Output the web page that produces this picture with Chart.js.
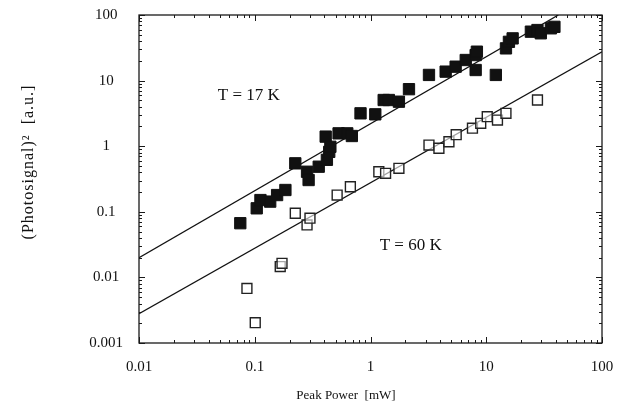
<!DOCTYPE html>
<html>
<head>
<meta charset="utf-8">
<script src="https://cdn.jsdelivr.net/npm/chart.js@4.4.1/dist/chart.umd.min.js"></script>
<style>
  html, body { margin: 0; padding: 0; background: #fff; }
</style>
</head>
<body>
<canvas id="photoChart" width="620" height="410"></canvas>
<script>
// values
const power17 = [0.075, 0.104, 0.112, 0.136, 0.156, 0.184, 0.224, 0.283, 0.292, 0.357, 0.42, 0.44, 0.41, 0.45, 0.53, 0.63, 0.69, 0.82, 1.10, 1.30, 1.44, 1.76, 2.15, 3.2, 4.46, 5.44, 6.65, 8.1, 8.1, 8.3, 12.1, 14.8, 15.7, 16.9, 24.3, 27.7, 29.6, 36.2, 38.8];
const signal17 = [0.067, 0.113, 0.151, 0.143, 0.180, 0.215, 0.548, 0.408, 0.305, 0.487, 0.62, 0.82, 1.40, 0.98, 1.57, 1.57, 1.43, 3.17, 3.06, 5.06, 5.06, 4.77, 7.4, 12.2, 13.7, 16.3, 20.6, 24.5, 14.5, 27.6, 12.2, 31, 39, 44, 55.7, 59, 52.6, 62.7, 66];

const power60 = [0.101, 0.0856, 0.166, 0.172, 0.283, 0.224, 0.30, 0.515, 0.67, 1.18, 1.35, 1.76, 3.2, 3.9, 4.76, 5.5, 7.6, 8.96, 10.2, 12.5, 14.8, 27.7];
const signal60 = [0.00204, 0.0068, 0.0146, 0.0164, 0.063, 0.095, 0.080, 0.18, 0.241, 0.408, 0.386, 0.46, 1.04, 0.93, 1.17, 1.5, 1.88, 2.23, 2.82, 2.5, 3.17, 5.06];

// fitted lines (slope ~1 on log-log)
const fit17X = [0.01, 42];
const fit17Y = [0.02, 100];
const fit60X = [0.01, 100];
const fit60Y = [0.0028, 27.5];

const xTicks = [0.01, 0.1, 1, 10, 100];
const xTickLabels = ["0.01", "0.1", "1", "10", "100"];
const yTicks = [0.001, 0.01, 0.1, 1, 10, 100];
const yTickLabels = ["0.001", "0.01", "0.1", "1", "10", "100"];

const xTitle = "Peak Power  [mW]";
const yTitle = "(Photosignal)\u00B2  [a.u.]";
const tempLabels = ["T = 17 K", "T = 60 K"];

function toPoints(xs, ys) {
  return xs.map((v, i) => ({ x: v, y: ys[i] }));
}

function labelFor(list, labels, v) {
  const i = list.findIndex(t => Math.abs(Math.log10(t) - Math.log10(v)) < 1e-6);
  return i < 0 ? "" : labels[i];
}

function logMarks(min, max) {
  const out = [];
  const lo = Math.round(Math.log10(min)), hi = Math.round(Math.log10(max));
  for (let e = lo; e < hi; e++) {
    for (let k = 1; k < 10; k++) out.push({ v: k * Math.pow(10, e), major: k === 1 });
  }
  out.push({ v: max, major: true });
  return out;
}

// scale overhang would push the plot area in; let layout.padding decide instead
function noOverhang(s) {
  s.paddingTop = 0; s.paddingBottom = 0; s.paddingLeft = 0; s.paddingRight = 0;
}

const serif = '"Liberation Serif", "DejaVu Serif", serif';

// box frame with inward ticks on all four sides, plus titles and annotations
const frameTicks = {
  id: "frameTicks",
  afterDraw(chart) {
    const { ctx, chartArea: a, scales: { x, y } } = chart;
    ctx.save();
    ctx.strokeStyle = "#1a1a1a";
    ctx.lineWidth = 1;
    logMarks(x.min, x.max).forEach(t => {
      const px = Math.round(x.getPixelForValue(t.v)) + 0.5;
      const len = t.major ? 6 : 3;
      ctx.beginPath();
      ctx.moveTo(px, a.bottom); ctx.lineTo(px, a.bottom - len);
      ctx.moveTo(px, a.top); ctx.lineTo(px, a.top + len);
      ctx.stroke();
    });
    logMarks(y.min, y.max).forEach(t => {
      const py = Math.round(y.getPixelForValue(t.v)) + 0.5;
      const len = t.major ? 6 : 3;
      ctx.beginPath();
      ctx.moveTo(a.left, py); ctx.lineTo(a.left + len, py);
      ctx.moveTo(a.right, py); ctx.lineTo(a.right - len, py);
      ctx.stroke();
    });
    ctx.lineWidth = 1.3;
    ctx.strokeRect(a.left, a.top, a.width, a.height);

    ctx.fillStyle = "#111";
    ctx.textBaseline = "middle";
    ctx.font = "17px " + serif;
    ctx.textAlign = "left";
    ctx.fillText(tempLabels[0], x.getPixelForValue(0.048), y.getPixelForValue(6.0));
    ctx.fillText(tempLabels[1], x.getPixelForValue(1.2), y.getPixelForValue(0.031));

    ctx.textAlign = "center";
    ctx.font = "13px " + serif;
    ctx.fillText(xTitle, 346, 396);

    ctx.translate(29, 162);
    ctx.rotate(-Math.PI / 2);
    ctx.font = "16px " + serif;
    ctx.letterSpacing = "1px";
    ctx.fillText(yTitle, 0, 0);
    ctx.restore();
  }
};

new Chart(document.getElementById("photoChart"), {
  type: "scatter",
  data: {
    datasets: [
      { label: tempLabels[0], data: toPoints(power17, signal17), pointStyle: "rect", pointRadius: 8, backgroundColor: "#111", borderColor: "#111", borderWidth: 1 },
      { label: tempLabels[1], data: toPoints(power60, signal60), pointStyle: "rect", pointRadius: 7, backgroundColor: "rgba(255,255,255,0.6)", borderColor: "#222", borderWidth: 1.4 },
      { label: "fit 17 K", data: toPoints(fit17X, fit17Y), showLine: true, pointRadius: 0, borderColor: "#111", borderWidth: 1.3 },
      { label: "fit 60 K", data: toPoints(fit60X, fit60Y), showLine: true, pointRadius: 0, borderColor: "#111", borderWidth: 1.3 }
    ]
  },
  options: {
    responsive: false,
    animation: false,
    layout: { padding: { left: 0, right: 18, top: 15, bottom: 0 } },
    plugins: { legend: { display: false }, tooltip: { enabled: false } },
    scales: {
      x: {
        type: "logarithmic",
        min: 0.01, max: 100,
        afterBuildTicks: s => { s.ticks = xTicks.map(v => ({ value: v })); },
        afterFit: s => { s.height = 67; noOverhang(s); },
        ticks: {
          callback: v => labelFor(xTicks, xTickLabels, v),
          font: { family: serif, size: 15 }, color: "#111",
          padding: 15, maxRotation: 0, autoSkip: false
        },
        grid: { display: false, drawTicks: false },
        border: { display: false }
      },
      y: {
        type: "logarithmic",
        min: 0.001, max: 100,
        afterBuildTicks: s => { s.ticks = yTicks.map(v => ({ value: v })); },
        afterFit: s => { s.width = 139; noOverhang(s); },
        ticks: {
          callback: v => labelFor(yTicks, yTickLabels, v),
          font: { family: serif, size: 15 }, color: "#111",
          padding: 16, crossAlign: "center", autoSkip: false
        },
        grid: { display: false, drawTicks: false },
        border: { display: false }
      }
    }
  },
  plugins: [frameTicks]
});
</script>
</body>
</html>
